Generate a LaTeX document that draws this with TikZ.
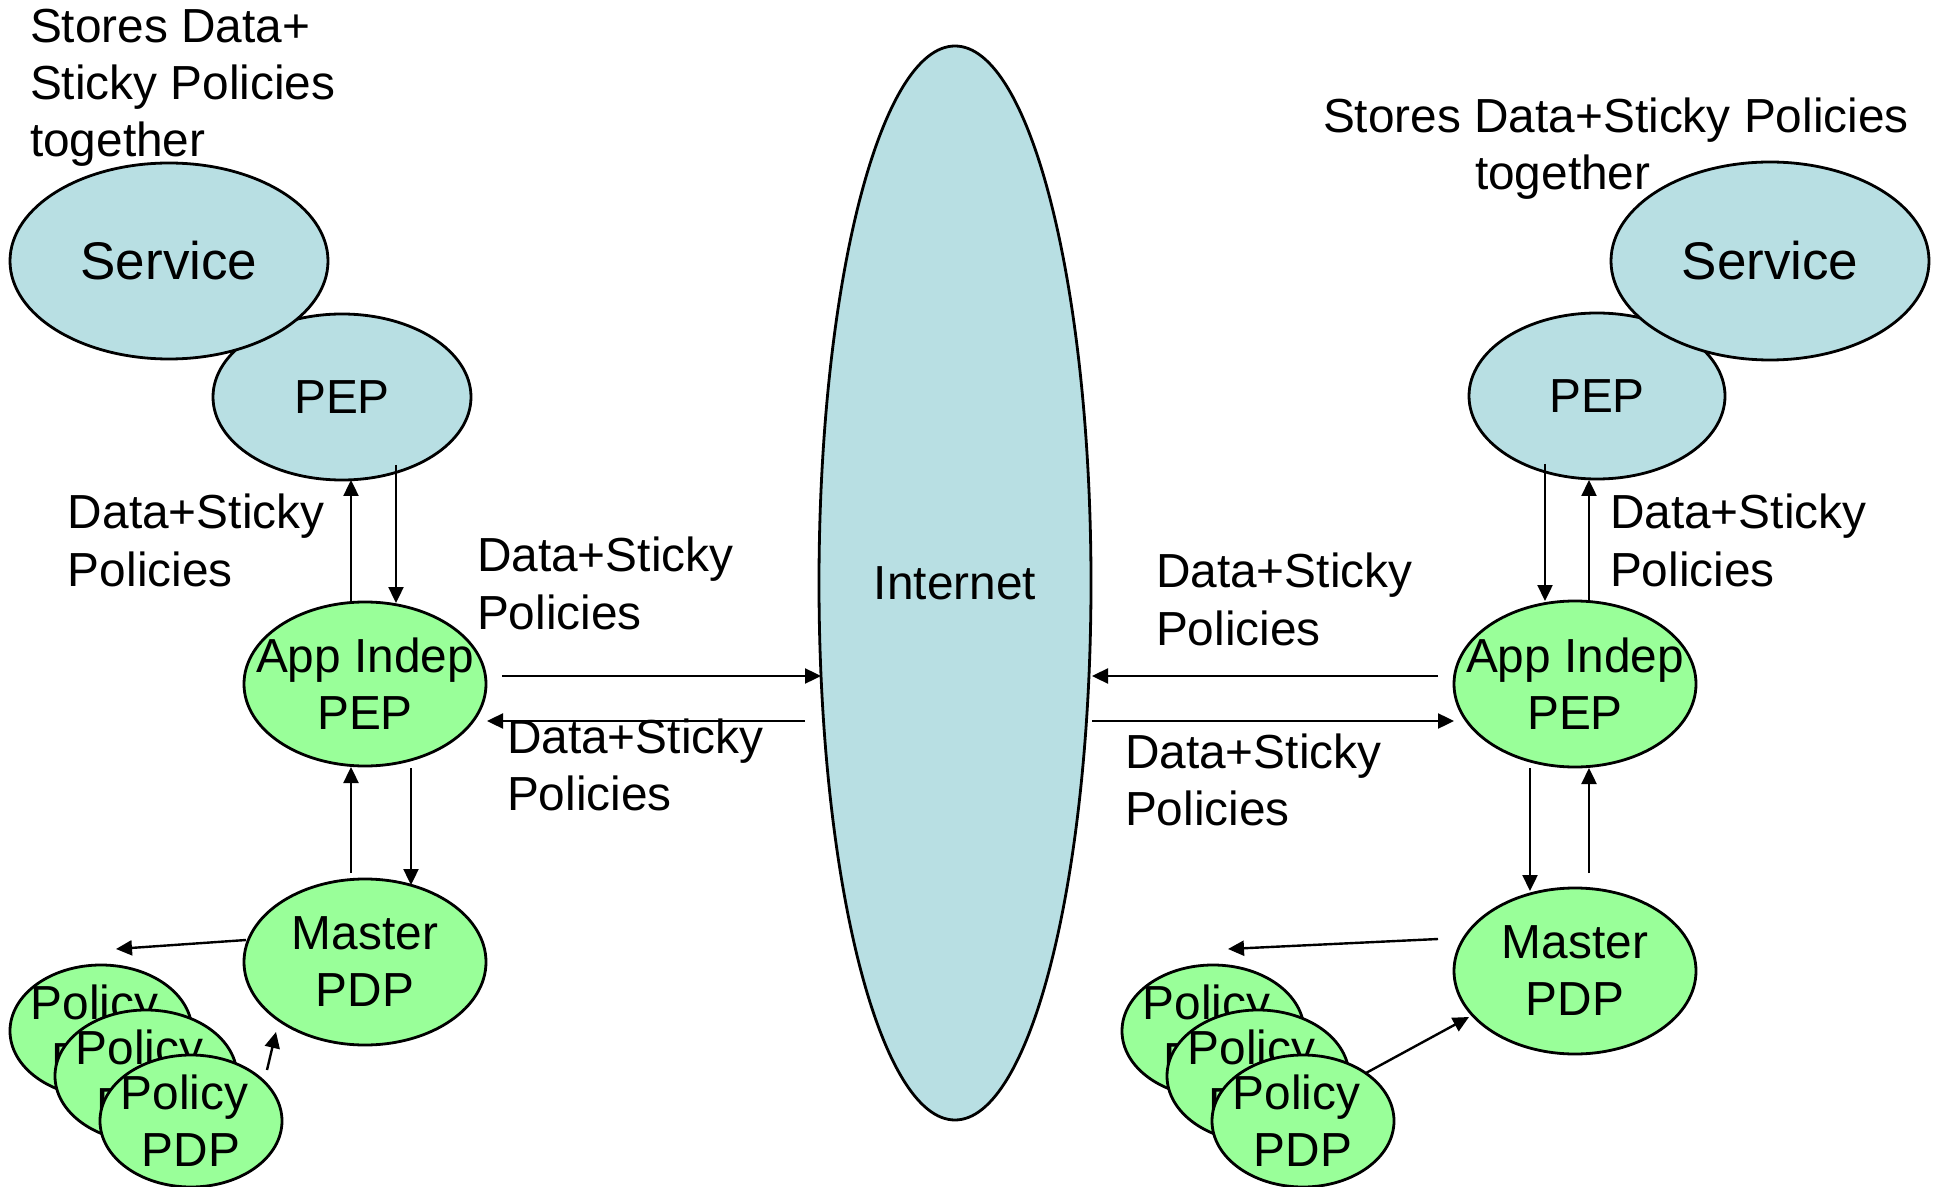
\documentclass[tikz,border=0pt]{standalone}
\usepackage{fontspec}
\setmainfont{Liberation Sans}
\usetikzlibrary{shapes.geometric,arrows.meta,calc}
\definecolor{netblue}{HTML}{B8DFE3}
\definecolor{pdpgreen}{HTML}{99FF99}
\newcommand{\fsmain}{\fontsize{23.9pt}{28.5pt}\selectfont}
\newcommand{\fsbig}{\fontsize{26.5pt}{30pt}\selectfont}
\newcommand{\poltext}{Policy\hspace*{0.28em}\\PDP}
\tikzset{
  blob/.style={ellipse, draw, line width=1.4pt, inner sep=0pt, outer sep=0pt},
  cloudblob/.style={blob, fill=netblue},
  pdpblob/.style={blob, fill=pdpgreen},
  % text set inside an ellipse without widening it
  txt/.style={path picture={\node[align=center, font=\fsmain, inner sep=0pt]
      at (path picture bounding box.center) {#1};}},
  bigtxt/.style={path picture={\node[align=center, font=\fsbig, inner sep=0pt]
      at (path picture bounding box.center) {#1};}},
  lbl/.style={inner sep=0pt, outer sep=0pt, align=left, font=\fsmain, anchor=base west},
  arr/.style={line width=1.2pt, -{Triangle[length=8pt,width=7.5pt]}}
}
\begin{document}
\begin{tikzpicture}[x=0.5pt,y=-0.5pt]
\useasboundingbox (0,0) rectangle (1939,1187);

% ---- left site ----
\node[cloudblob, minimum width=129pt, minimum height=83pt, txt={PEP}] (pepL) at (342,397) {};
\node[cloudblob, minimum width=159pt, minimum height=98pt, bigtxt={Service}] (svcL) at (169,261) {};
\node[pdpblob, minimum width=121pt, minimum height=82pt, txt={App Indep\\PEP}] (appL) at (365,684) {};
\node[pdpblob, minimum width=121pt, minimum height=83pt, txt={Master\\PDP}] (mstL) at (365,962) {};
\node[pdpblob, minimum width=91pt, minimum height=66pt, txt={\poltext}] (polL1) at (101,1031) {};
\node[pdpblob, minimum width=91pt, minimum height=66pt, txt={\poltext}] (polL2) at (146,1076) {};
\node[pdpblob, minimum width=91pt, minimum height=66pt, txt={\poltext}] (polL3) at (191,1121) {};

% ---- internet ----
\node[cloudblob, minimum width=136pt, minimum height=537pt, txt={Internet}] (inet) at (955,583) {};

% ---- right site ----
\node[cloudblob, minimum width=128pt, minimum height=83pt, txt={PEP}] (pepR) at (1597,396) {};
\node[cloudblob, minimum width=159pt, minimum height=99pt, bigtxt={Service}] (svcR) at (1770,261) {};
\node[pdpblob, minimum width=121pt, minimum height=83pt, txt={App Indep\\PEP}] (appR) at (1575,684) {};
\node[pdpblob, minimum width=121pt, minimum height=83pt, txt={Master\\PDP}] (mstR) at (1575,971) {};
\node[pdpblob, minimum width=91pt, minimum height=66pt, txt={\poltext}] (polR1) at (1213,1031) {};
\node[pdpblob, minimum width=91pt, minimum height=66pt, txt={\poltext}] (polR2) at (1258,1076) {};
\node[pdpblob, minimum width=91pt, minimum height=66pt, txt={\poltext}] (polR3) at (1303,1121) {};

% ---- labels (anchored at the baseline of their last line) ----
\node[lbl] (stL) at (30,157) {Stores Data+\\Sticky Policies\\together};
\node[lbl] (stR) at (1323,190) {Stores Data+Sticky Policies\\\hspace*{76pt}together};
\node[lbl] (lb1) at (68,586) {Data+Sticky\\Policies};
\node[lbl] (lb2) at (477,629) {Data+Sticky\\Policies};
\node[lbl] (lb3) at (507,810) {Data+Sticky\\Policies};
\node[lbl] (lb4) at (1156,645) {Data+Sticky\\Policies};
\node[lbl] (lb5) at (1125,825) {Data+Sticky\\Policies};
\node[lbl] (lb6) at (1610,586) {Data+Sticky\\Policies};

% ---- left connectors ----
\draw[arr] ($(appL.north)+(-14,0)$) -- ($(pepL.south)+(9,0)$);
\draw[arr] ($(pepL.south)+(54,-15)$) -- ($(appL.north)+(31,1)$);
\draw[arr] ($(appL.south)+(46,2)$) -- ($(mstL.north)+(46,6)$);
\draw[arr] ($(mstL.north)+(-14,-6)$) -- ($(appL.south)+(-14,1)$);
\draw[arr] ($(mstL.west)+(2,-22)$) -- ($(polL1.north)+(15,-16)$);
\draw[arr] ($(polL3.center)+(76,-51)$) -- ($(mstL.center)+(-89,70)$);
\draw[arr] ($(appL.east)+(16,-8)$) -- ($(inet.west)+(2,93)$);
\draw[arr] ($(inet.west)+(-14,138)$) -- ($(appL.east)+(1,37)$);

% ---- right connectors ----
\draw[arr] ($(pepR.south)+(-52,-15)$) -- ($(appR.north)+(-30,0)$);
\draw[arr] ($(appR.north)+(14,0)$) -- ($(pepR.south)+(-8,1)$);
\draw[arr] ($(appR.south)+(-45,1)$) -- ($(mstR.north)+(-45,3)$);
\draw[arr] ($(mstR.north)+(14,-15)$) -- ($(appR.south)+(14,1)$);
\draw[arr] ($(mstR.west)+(-16,-32)$) -- ($(polR1.north)+(15,-16)$);
\draw[arr] ($(polR3.center)+(63,-48)$) -- ($(mstR.center)+(-106,46)$);
\draw[arr] ($(appR.west)+(-16,-8)$) -- ($(inet.east)+(1,93)$);
\draw[arr] ($(inet.east)+(1,138)$) -- ($(appR.west)+(0,37)$);
\end{tikzpicture}
\end{document}
